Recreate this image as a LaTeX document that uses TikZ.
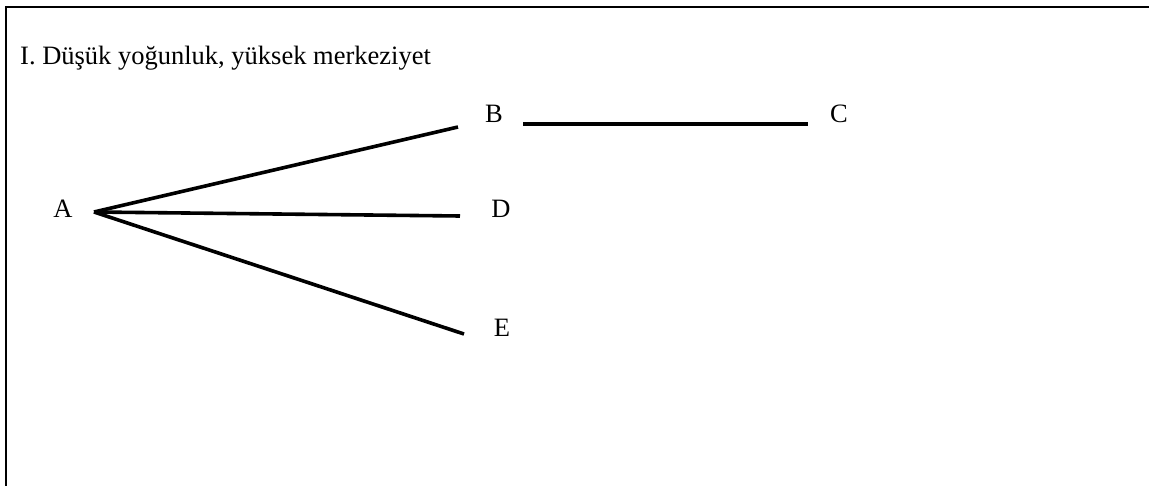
\documentclass[tikz,border=0pt]{standalone}
\usepackage{fontspec}
\setmainfont{Liberation Serif}
\begin{document}
\begin{tikzpicture}[x=1pt,y=-1pt,
  lbl/.style={inner sep=0pt, font=\fontsize{26.5}{31}\selectfont},
  edge/.style={line width=3.6pt}]
\useasboundingbox (0,0) rectangle (1149,486);
\draw[line width=2.6pt] (6,486) -- (6,7) -- (1149,7);
\node[lbl, anchor=base west] (title) at (20,65) {I. Düşük yoğunluk, yüksek merkeziyet};
\node[lbl, anchor=base] (A) at (63,218) {A};
\node[lbl, anchor=base] (B) at (494,123) {B};
\node[lbl, anchor=base] (C) at (839,123) {C};
\node[lbl, anchor=base] (D) at (501,218) {D};
\node[lbl, anchor=base] (E) at (502,337) {E};
\coordinate (a0) at (94,212);
\coordinate (b0) at (458,127);
\coordinate (d0) at (460,216);
\coordinate (e0) at (464,334);
\coordinate (b1) at (523,124);
\coordinate (c0) at (808,124);
\draw[edge] (a0) -- (b0);
\draw[edge] (a0) -- (d0);
\draw[edge] (a0) -- (e0);
\draw[edge] (b1) -- (c0);
\end{tikzpicture}
\end{document}
